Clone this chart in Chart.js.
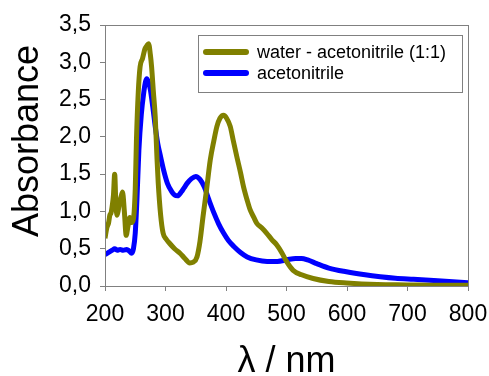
<!DOCTYPE html>
<html>
<head>
<meta charset="utf-8">
<script src="https://cdn.jsdelivr.net/npm/chart.js@4"></script>
<style>
  html, body { margin: 0; padding: 0; background: #fff; }
  #wrap { width: 489px; height: 376px; }
</style>
</head>
<body>
<div id="wrap"><canvas id="chart" width="489" height="376"></canvas></div>
<script>
// water - acetonitrile (1:1)
const waterWavelengths = [200, 203, 206, 208, 210, 212, 214, 216, 218, 220, 222, 224, 226, 229, 232, 235, 238, 241, 244, 247, 250, 252, 255, 258, 262, 266, 269, 272, 275, 277, 280, 283, 286, 288, 292, 296, 301, 307, 315, 324, 332, 340, 346, 352, 357, 362, 368, 374, 380, 385, 390, 396, 401, 407, 412, 418, 424, 429, 435, 440, 446, 451, 459, 467, 476, 484, 492, 500, 511, 525, 544, 570, 599, 650, 700, 750, 800];
const waterAbsorbance = [0.64, 0.78, 0.85, 0.95, 0.98, 1.08, 1.22, 1.5, 1.1, 0.95, 1.02, 1.12, 1.18, 1.26, 1.0, 0.68, 0.8, 0.92, 0.85, 0.9, 1.3, 1.96, 2.6, 2.94, 3.05, 3.18, 3.22, 3.25, 3.1, 2.94, 2.6, 2.27, 1.7, 1.38, 0.95, 0.71, 0.63, 0.57, 0.5, 0.44, 0.37, 0.31, 0.32, 0.39, 0.6, 0.93, 1.3, 1.69, 1.95, 2.14, 2.25, 2.29, 2.25, 2.14, 1.95, 1.73, 1.52, 1.33, 1.15, 1.02, 0.92, 0.84, 0.78, 0.71, 0.62, 0.55, 0.45, 0.33, 0.21, 0.15, 0.1, 0.06, 0.04, 0.02, 0.015, 0.01, 0.01];

// acetonitrile
const acnWavelengths = [200, 204, 208, 212, 216, 220, 225, 230, 236, 240, 244, 247, 250, 253, 256, 260, 264, 267, 269, 272, 275, 279, 283, 287, 292, 297, 303, 310, 315, 320, 326, 331, 336, 343, 350, 357, 364, 372, 380, 388, 396, 404, 413, 424, 435, 450, 468, 485, 500, 515, 525, 535, 550, 570, 599, 630, 655, 680, 710, 750, 800];
const acnAbsorbance = [0.42, 0.44, 0.46, 0.48, 0.5, 0.48, 0.49, 0.48, 0.49, 0.47, 0.44, 0.5, 0.71, 1.2, 1.82, 2.3, 2.59, 2.74, 2.78, 2.73, 2.63, 2.4, 2.14, 1.92, 1.73, 1.55, 1.38, 1.27, 1.22, 1.21, 1.26, 1.32, 1.38, 1.44, 1.47, 1.43, 1.33, 1.15, 0.98, 0.83, 0.71, 0.61, 0.53, 0.45, 0.39, 0.35, 0.33, 0.33, 0.35, 0.37, 0.37, 0.35, 0.3, 0.24, 0.19, 0.15, 0.125, 0.105, 0.09, 0.07, 0.045];

const seriesLabels = ['water - acetonitrile (1:1)', 'acetonitrile'];
const seriesColors = ['#808000', '#0000ff'];

const xTicks = [200, 300, 400, 500, 600, 700, 800];
const yTicks = [0, 0.5, 1.0, 1.5, 2.0, 2.5, 3.0, 3.5];
const xTitle = 'λ / nm';
const yTitle = 'Absorbance';

const FONT = '"Liberation Sans", Arial, sans-serif';
const AXIS_GRAY = '#808080';

function toPoints(xs, ys) {
  return xs.map((x, i) => ({ x: x, y: ys[i] }));
}

// rahmen um die plotfläche
const frameBox = {
  id: 'frameBox',
  afterDraw(chart) {
    const { ctx, chartArea: a } = chart;
    ctx.save();
    ctx.strokeStyle = AXIS_GRAY;
    ctx.lineWidth = 1;
    ctx.strokeRect(a.left + 0.5, a.top + 0.5, a.right - a.left, a.bottom - a.top);
    ctx.restore();
  }
};

// achsentitel, frei positioniert
const axisTitles = {
  id: 'axisTitles',
  afterDraw(chart) {
    const ctx = chart.ctx;
    const a = chart.chartArea;
    ctx.save();
    ctx.fillStyle = '#000';
    ctx.textAlign = 'center';
    ctx.textBaseline = 'alphabetic';
    ctx.font = '36px ' + FONT;
    ctx.fillText(xTitle, (a.left + a.right) / 2, 372);
    ctx.translate(38, 141);
    ctx.rotate(-Math.PI / 2);
    ctx.fillText(yTitle, 0, 0);
    ctx.restore();
  }
};

// legende innerhalb der plotfläche
const boxLegend = {
  id: 'boxLegend',
  afterDraw(chart) {
    const ctx = chart.ctx;
    const x0 = 198, y0 = 35, w = 264, h = 57;
    ctx.save();
    ctx.fillStyle = '#fff';
    ctx.fillRect(x0, y0, w, h);
    ctx.strokeStyle = AXIS_GRAY;
    ctx.lineWidth = 1;
    ctx.strokeRect(x0 + 0.5, y0 + 0.5, w, h);
    ctx.font = '18px ' + FONT;
    ctx.textBaseline = 'middle';
    chart.data.datasets.forEach((ds, i) => {
      const y = 52 + i * 21;
      ctx.strokeStyle = ds.borderColor;
      ctx.lineWidth = 6;
      ctx.lineCap = 'round';
      ctx.beginPath();
      ctx.moveTo(206, y);
      ctx.lineTo(246, y);
      ctx.stroke();
      ctx.fillStyle = '#000';
      ctx.fillText(ds.label, 257, y + 1);
    });
    ctx.restore();
  }
};

new Chart(document.getElementById('chart'), {
  type: 'scatter',
  data: {
    datasets: [
      {
        label: seriesLabels[0],
        data: toPoints(waterWavelengths, waterAbsorbance),
        borderColor: seriesColors[0],
        showLine: true,
        borderWidth: 5,
        pointRadius: 0,
        tension: 0.3,
        cubicInterpolationMode: 'monotone'
      },
      {
        label: seriesLabels[1],
        data: toPoints(acnWavelengths, acnAbsorbance),
        borderColor: seriesColors[1],
        showLine: true,
        borderWidth: 5,
        pointRadius: 0,
        tension: 0.3,
        cubicInterpolationMode: 'monotone'
      }
    ]
  },
  options: {
    responsive: false,
    animation: false,
    layout: { padding: { top: 25, right: 21, left: 0, bottom: 0 } },
    plugins: {
      legend: { display: false },
      tooltip: { enabled: false }
    },
    scales: {
      x: {
        type: 'linear',
        min: 200,
        max: 800,
        afterBuildTicks(scale) {
          scale.ticks = xTicks.map(v => ({ value: v }));
        },
        afterFit(scale) {
          scale.height = 90;
          scale.paddingLeft = 0;
          scale.paddingRight = 0;
        },
        ticks: {
          color: '#000',
          font: { family: FONT, size: 23 },
          padding: 10,
          maxRotation: 0
        },
        grid: { drawOnChartArea: false, tickLength: 5, color: AXIS_GRAY },
        border: { color: AXIS_GRAY }
      },
      y: {
        min: 0,
        max: 3.5,
        afterBuildTicks(scale) {
          scale.ticks = yTicks.map(v => ({ value: v }));
        },
        afterFit(scale) {
          scale.width = 105;
          scale.paddingTop = 0;
          scale.paddingBottom = 0;
        },
        ticks: {
          color: '#000',
          font: { family: FONT, size: 23 },
          padding: 9,
          callback: v => v.toFixed(1).replace('.', ',')
        },
        grid: { drawOnChartArea: false, tickLength: 5, color: AXIS_GRAY },
        border: { color: AXIS_GRAY }
      }
    }
  },
  plugins: [frameBox, boxLegend, axisTitles]
});
</script>
</body>
</html>
